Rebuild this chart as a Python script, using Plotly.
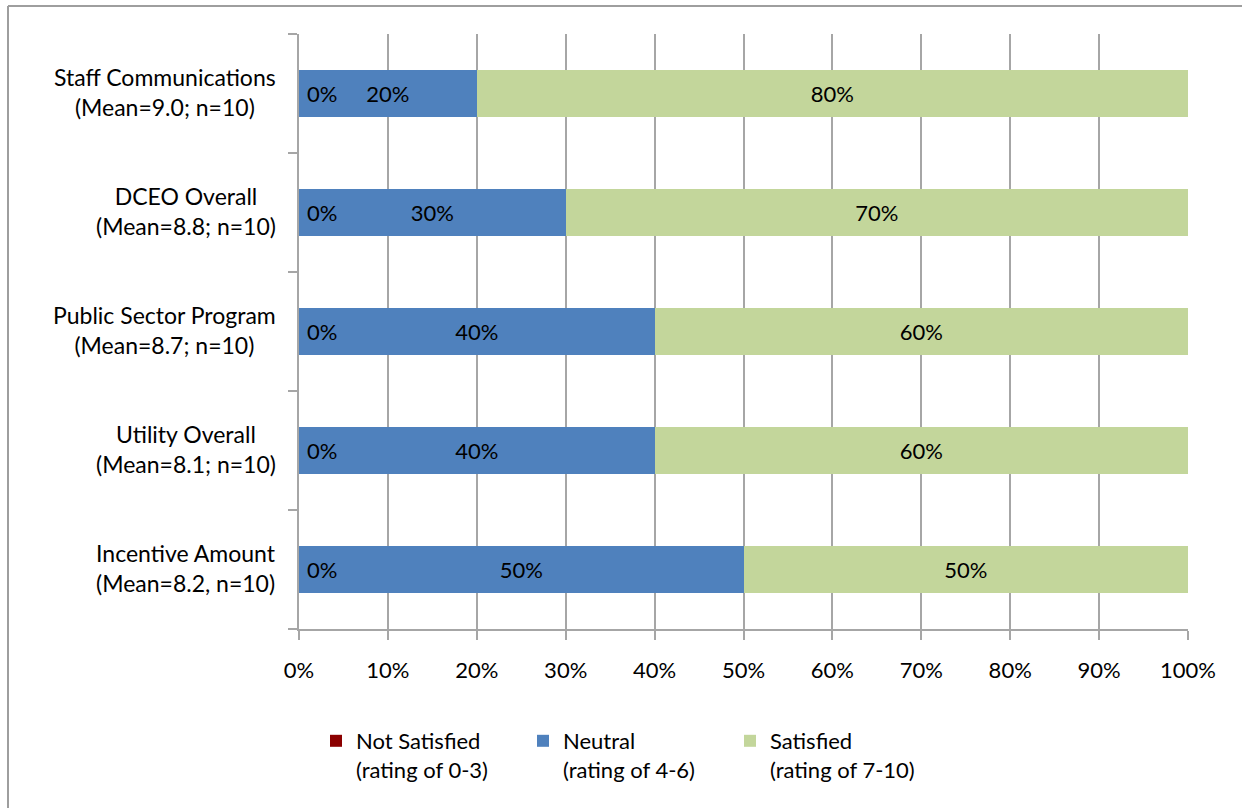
import plotly.graph_objects as go

categories = [
    "Staff Communications<br>(Mean=9.0; n=10)",
    "DCEO Overall<br>(Mean=8.8; n=10)",
    "Public Sector Program<br>(Mean=8.7; n=10)",
    "Utility Overall<br>(Mean=8.1; n=10)",
    "Incentive Amount<br>(Mean=8.2, n=10)",
]
not_satisfied = [0, 0, 0, 0, 0]
neutral = [20, 30, 40, 40, 50]
satisfied = [80, 70, 60, 60, 50]
x_ticks = [0, 10, 20, 30, 40, 50, 60, 70, 80, 90, 100]
x_tick_labels = [f"{v}%" for v in x_ticks]
legend_names = [
    "Not Satisfied<br>(rating of 0-3)",
    "Neutral<br>(rating of 4-6)",
    "Satisfied<br>(rating of 7-10)",
]

FONT = "Lato"
FS = 22
colors = ["#8B0000", "#4F81BD", "#C3D69B"]

fig = go.Figure()
for i, (name, vals, col) in enumerate(zip(legend_names, [not_satisfied, neutral, satisfied], colors)):
    fig.add_trace(go.Bar(
        y=categories, x=vals, orientation="h", name=name,
        marker=dict(color=col, line=dict(width=0)),
        text=[f"{v}%" for v in vals] if i > 0 else None,
        textposition="inside", insidetextanchor="middle",
        textfont=dict(family=FONT, size=FS, color="black"),
        hoverinfo="skip",
    ))

L, R, T, B = 299, 54, 34, 179
W, H = 1242, 808
pw, ph = W - L - R, H - T - B

annotations = []
# labels for the zero-width "Not Satisfied" segments
for c, v in zip(categories, not_satisfied):
    annotations.append(dict(
        x=v, y=c, xref="x", yref="y", text=f"{v}%", showarrow=False,
        xanchor="left", yanchor="middle", xshift=6,
        font=dict(family=FONT, size=FS, color="black"),
    ))
# centred category labels
for c in categories:
    annotations.append(dict(
        x=(278 - L) / pw, y=c, xref="paper", yref="y", text=c, showarrow=False,
        xanchor="right", yanchor="middle", align="center", yshift=2,
        font=dict(family=FONT, size=23, color="black"),
    ))

fig.update_layout(
    width=W, height=H,
    barmode="stack", bargap=0.6,
    plot_bgcolor="white", paper_bgcolor="white",
    margin=dict(l=L, r=R, t=T, b=B, pad=0, autoexpand=False),
    font=dict(family=FONT, size=FS, color="black"),
    uniformtext=dict(mode="show", minsize=FS),
    annotations=annotations,
    xaxis=dict(
        range=[0, 100], tickvals=x_ticks, ticktext=x_tick_labels,
        showgrid=True, gridcolor="#A6A6A6", gridwidth=1.5,
        showline=True, linecolor="#A6A6A6", linewidth=1.5,
        ticks="outside", ticklen=9, tickcolor="#A6A6A6", tickwidth=1.5,
        zeroline=False, tickfont=dict(family=FONT, size=FS),
        ticklabelstandoff=12,
    ),
    yaxis=dict(
        categoryorder="array", categoryarray=categories[::-1],
        showline=True, linecolor="#A6A6A6", linewidth=1.5,
        ticks="outside", ticklen=9, tickcolor="#A6A6A6", tickwidth=1.5,
        tickson="boundaries", showgrid=False, showticklabels=False,
    ),
    legend=dict(
        orientation="h", x=(316 - L) / pw, xanchor="left",
        y=-(720 - T - ph) / ph, yanchor="top", valign="top",
        font=dict(family=FONT, size=FS), traceorder="normal",
        itemwidth=30, entrywidth=162, itemclick=False,
    ),
    shapes=[
        dict(type="line", xref="paper", yref="paper",
             x0=(8 - L) / pw, x1=(W - L) / pw,
             y0=(H - B - 6) / ph, y1=(H - B - 6) / ph,
             line=dict(color="#9E9E9E", width=2)),
        dict(type="line", xref="paper", yref="paper",
             x0=(8 - L) / pw, x1=(8 - L) / pw,
             y0=(H - B - 6) / ph, y1=-(B) / ph,
             line=dict(color="#9E9E9E", width=2)),
    ],
)

fig.write_html("out.html")
